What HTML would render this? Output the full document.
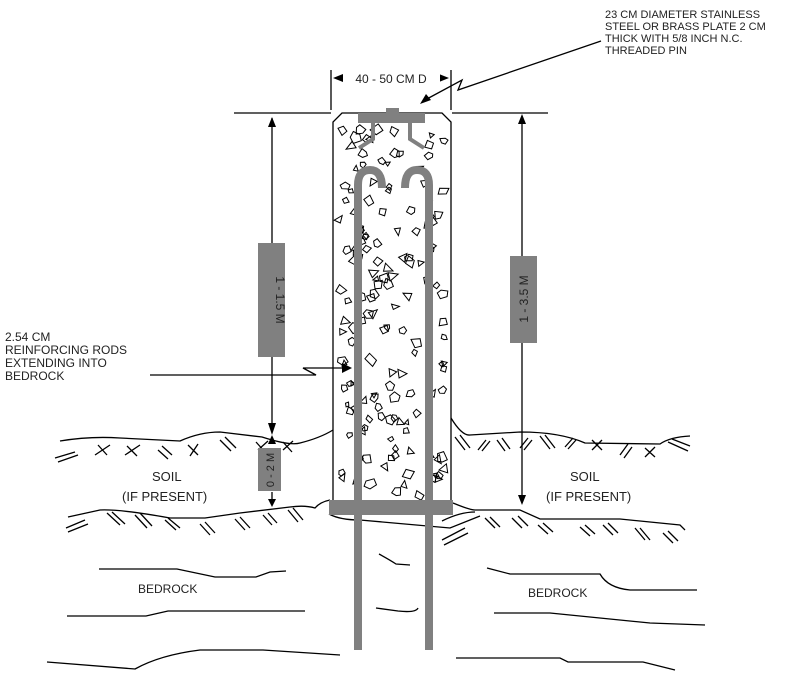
<!DOCTYPE html>
<html><head><meta charset="utf-8"><style>
html,body{margin:0;padding:0;background:#fff;}
svg{display:block}
text{font-family:"Liberation Sans",sans-serif;fill:#222}
</style></head><body>
<svg id="s" width="800" height="680" viewBox="0 0 800 680" xmlns="http://www.w3.org/2000/svg">
<g fill="none" stroke="#000" stroke-width="1.3">
<path d="M333,500 L333,122 L342,113 L442,113 L451,122 L451,500"/>
<path d="M60,441 Q90,436 120,438 L180,441 Q200,432 220,432 L262,437 Q290,446 300,443 Q320,438 333,430"/>
<path d="M451,418 Q462,436 470,435 L520,432 Q560,432 585,443 L660,444 Q670,437 690,436"/>
<path d="M68,517 L100,510 Q120,509 170,518 L205,518 L240,513 L290,507 Q305,505 315,508 Q320,502 330,500"/>
<path d="M329,514 Q340,520 360,520 L450,528 L480,516"/>
<path d="M453,503 Q470,510 475,510 L520,510 L540,519 L620,519 L680,525 L685,530"/>
<path d="M442,521 Q460,512 475,512"/>
<path d="M55,458 L75,452 M58,462 L78,455 M95,455 L110,445 M98,445 L107,455 M125,455 L140,445 M127,446 L137,456 M158,450 L168,459 M162,446 L172,455 M190,456 L198,444 M188,445 L198,455 M220,440 L231,451 M225,437 L236,448 M258,450 L268,441 M256,442 L265,452 M283,450 L293,441 M283,442 L292,452"/>
<path d="M455,437 L465,450 M460,435 L470,448 M478,450 L486,440 M482,451 L490,441 M497,440 L505,451 M502,438 L510,449 M520,448 L528,438 M524,450 L532,440 M540,436 L550,449 M545,435 L555,448 M565,447 L573,438 M568,449 L576,440 M592,440 L602,450 M592,450 L602,440 M620,455 L628,444 M624,458 L632,447 M645,448 L655,457 M645,457 L655,447 M668,442 L688,451 M672,439 L690,446"/>
<path d="M66,528 L85,520 M68,532 L88,524 M107,513 L120,525 M112,512 L125,524 M135,515 L147,528 M140,513 L152,526 M165,520 L176,530 M168,518 L180,528 M200,524 L210,535 M205,522 L215,533 M235,519 L245,530 M240,517 L250,528 M263,515 L272,525 M268,513 L277,523 M288,510 L298,522 M293,508 L303,520"/>
<path d="M442,540 L465,528 M444,545 L468,533 M485,518 L495,528 M490,517 L500,527 M512,518 L522,528 M518,516 L528,526 M538,525 L548,534 M543,523 L553,532 M580,527 L590,536 M585,525 L595,534 M603,525 L613,535 M608,523 L618,533 M635,528 L645,540 M640,528 L650,540 M663,533 L673,543 M668,531 L678,541"/>
<!-- bedrock lines -->
<path d="M99,569 L177,569 L215,577 L256,577 L270,572 L286,571"/>
<path d="M67,616 L146,616 L168,611 L305,611"/>
<path d="M47,662 L135,669 Q160,655 200,650 L263,650 L340,655"/>
<path d="M379,554 Q390,560 396,564 L410,565"/>
<path d="M376,608 L398,611 Q416,613 418,608"/>
<path d="M487,568 L510,574 L600,574 Q608,588 630,590 L697,590"/>
<path d="M494,613 L550,613 L650,623 L705,625"/>
<path d="M456,658 L560,658 L568,662 L643,662 L675,670"/>
<path d="M234,113 L331,113 M452,113 L548,113"/>
<path d="M331,70 L331,110 M451,70 L451,110"/>
<path d="M272,118 L272,243 M272,357 L272,430 M272,492 L272,505"/>
<path d="M522,118 L522,256 M522,343 L522,502"/>
<path d="M601,41 L458,90 L462,80 L425,100"/>
<path d="M150,375 L316,375 L303,368 L345,368"/>
</g>
<g fill="#000">
<polygon points="333,78 343,74 343,82"/><polygon points="449,78 439,74 439,82"/>
<polygon points="268,127 272,117 276,127"/><polygon points="268,423 272,435 276,423"/>
<polygon points="268,444 272,435 276,444"/><polygon points="268,499 272,507 276,499"/>
<polygon points="518,124 522,114 526,124"/><polygon points="518,495 522,505 526,495"/>
<polygon points="352,368 342,363 342,373"/>
<polygon points="420,104 426,94 431,100"/>
</g>
<rect x="344" y="71" width="96" height="15" fill="#fff"/>
<text x="391" y="83" font-size="12" text-anchor="middle">40 - 50 CM D</text>
<rect x="258" y="243" width="27" height="114" fill="#808080"/>
<text transform="translate(276,300) rotate(90)" font-size="12" text-anchor="middle">1 - 1.5 M</text>
<rect x="258" y="448" width="23" height="43" fill="#808080"/>
<text transform="translate(274,470) rotate(-90)" font-size="11" text-anchor="middle">0 - 2 M</text>
<rect x="510" y="256" width="27" height="87" fill="#808080"/>
<text transform="translate(528,299) rotate(-90)" font-size="12" text-anchor="middle">1 - 3.5 M</text>
<g id="chips" fill="none" stroke="#000" stroke-width="1"></g>
<rect x="329" y="500" width="124" height="15" fill="#808080"/>
<g fill="#808080">
<rect x="386" y="108" width="13" height="6"/>
<rect x="358" y="113" width="67" height="10"/>
</g>
<g fill="none" stroke="#808080" stroke-width="4">
<path d="M373,122 L373,139 L359,148"/>
<path d="M410,122 L410,139 L424,148"/>
<path d="M358,650 L358,185 Q358,170 370,170 Q382,170 382,188" stroke-width="8"/>
<path d="M429,650 L429,185 Q429,170 417,170 Q405,170 405,188" stroke-width="8"/>
</g>
<text font-size="11"><tspan x="605" y="18">23 CM DIAMETER STAINLESS</tspan><tspan x="605" y="30">STEEL OR BRASS PLATE 2 CM</tspan><tspan x="605" y="42">THICK WITH 5/8 INCH N.C.</tspan><tspan x="605" y="54">THREADED PIN</tspan></text>
<text font-size="12"><tspan x="5" y="341">2.54 CM</tspan><tspan x="5" y="354">REINFORCING RODS</tspan><tspan x="5" y="367">EXTENDING INTO</tspan><tspan x="5" y="380">BEDROCK</tspan></text>
<text x="152" y="481" font-size="13">SOIL</text>
<text x="122" y="501" font-size="13">(IF PRESENT)</text>
<text x="570" y="481" font-size="13">SOIL</text>
<text x="546" y="501" font-size="13">(IF PRESENT)</text>
<text x="138" y="593" font-size="12">BEDROCK</text>
<text x="528" y="597" font-size="12">BEDROCK</text>
</svg>
<script>
(function(){
var g=document.getElementById('chips'),s=12345;
function r(){s=(s*16807)%2147483647;return s/2147483647;}
var out='';
for(var i=0;i<150;i++){
 var x=339+r()*106,y=128+r()*368;
 var n=3+Math.floor(r()*3),a0=r()*6.28,sz=3+r()*3,p=[];
 for(var k=0;k<n;k++){var a=a0+k*6.28/n+r()*0.5;var rr=sz*(0.7+r()*0.5);p.push((x+Math.cos(a)*rr).toFixed(1)+','+(y+Math.sin(a)*rr).toFixed(1));}
 out+='<polygon points="'+p.join(' ')+'"/>';
}
g.innerHTML=out;
})();
</script>
</body></html>
